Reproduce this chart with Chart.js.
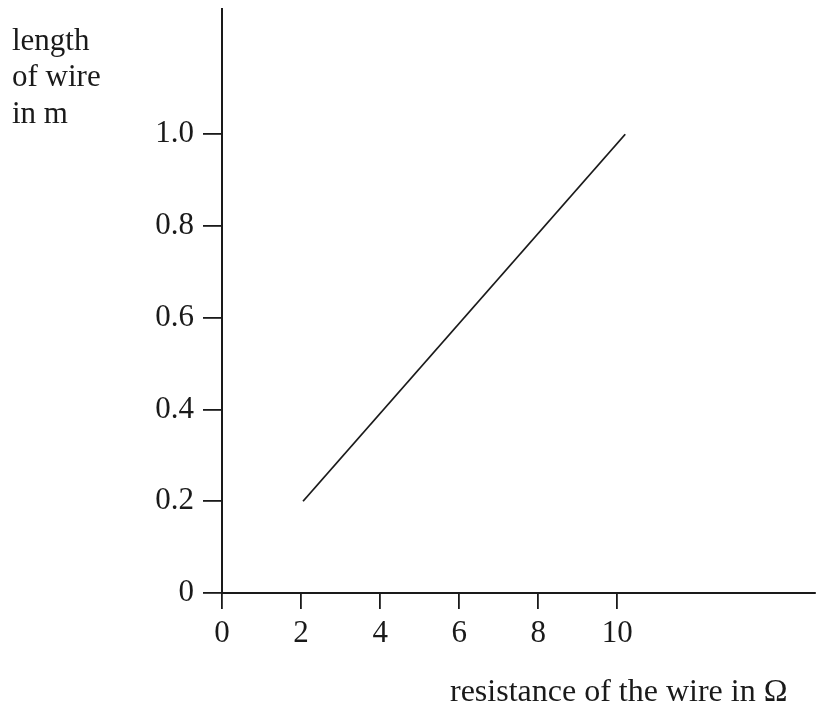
<!DOCTYPE html>
<html>
<head>
<meta charset="utf-8">
<script src="https://cdn.jsdelivr.net/npm/chart.js@4"></script>
<style>
html,body{margin:0;padding:0;background:#fff;}
canvas{display:block;}
</style>
</head>
<body>
<canvas id="c" width="818" height="707"></canvas>
<script>
// Data
const resistance = [2.05, 10.2];
const lengthM = [0.2, 1.0];
const xTickValues = [0, 2, 4, 6, 8, 10];
const xTickLabels = ['0', '2', '4', '6', '8', '10'];
const yTickValues = [0, 0.2, 0.4, 0.6, 0.8, 1.0];
const yTickLabels = ['0', '0.2', '0.4', '0.6', '0.8', '1.0'];
const yTitleLines = ['length', 'of wire', 'in m'];
const xTitle = 'resistance of the wire in \u03A9';

const FONT = '"Liberation Serif", "Times New Roman", serif';
const INK = '#1a1a1a';

const titlePlugin = {
  id: 'titles',
  afterDraw(chart) {
    const ctx = chart.ctx;
    ctx.save();
    ctx.fillStyle = INK;
    ctx.textAlign = 'left';
    ctx.textBaseline = 'alphabetic';
    ctx.font = '31px ' + FONT;
    const ys = [49.5, 86, 122.5];
    yTitleLines.forEach((t, i) => ctx.fillText(t, 12, ys[i]));
    ctx.font = '32px ' + FONT;
    ctx.fillText(xTitle, 450, 701);
    ctx.restore();
  }
};

new Chart(document.getElementById('c'), {
  type: 'scatter',
  data: {
    datasets: [{
      data: resistance.map((x, i) => ({x: x, y: lengthM[i]})),
      showLine: true,
      borderColor: INK,
      borderWidth: 1.8,
      pointRadius: 0,
      fill: false
    }]
  },
  options: {
    responsive: false,
    animation: false,
    layout: {padding: {top: 9, right: 3, left: 0, bottom: 0}},
    plugins: {legend: {display: false}, tooltip: {enabled: false}},
    scales: {
      x: {
        type: 'linear',
        min: 0,
        max: 15,
        afterBuildTicks: s => { s.ticks = xTickValues.map(v => ({value: v})); },
        afterFit: s => { s.height = 114; s.paddingLeft = 0; s.paddingRight = 0; },
        grid: {display: true, drawOnChartArea: false, drawTicks: true, tickLength: 16, color: INK, lineWidth: 1.8},
        border: {display: true, color: INK, width: 2},
        ticks: {
          color: INK,
          font: {family: FONT, size: 31},
          padding: 6,
          maxRotation: 0,
          autoSkip: false,
          callback: (v) => { const i = xTickValues.indexOf(v); return i >= 0 ? xTickLabels[i] : ''; }
        }
      },
      y: {
        type: 'linear',
        min: 0,
        max: 1.273,
        afterBuildTicks: s => { s.ticks = yTickValues.map(v => ({value: v})); },
        afterFit: s => { s.width = 222; s.paddingTop = 0; s.paddingBottom = 0; },
        grid: {display: true, drawOnChartArea: false, drawTicks: true, tickLength: 19, color: INK, lineWidth: 1.8},
        border: {display: true, color: INK, width: 2},
        ticks: {
          color: INK,
          font: {family: FONT, size: 31},
          padding: 9,
          autoSkip: false,
          callback: (v) => { const i = yTickValues.findIndex(t => Math.abs(t - v) < 1e-9); return i >= 0 ? yTickLabels[i] : ''; }
        }
      }
    }
  },
  plugins: [titlePlugin]
});
</script>
</body>
</html>
